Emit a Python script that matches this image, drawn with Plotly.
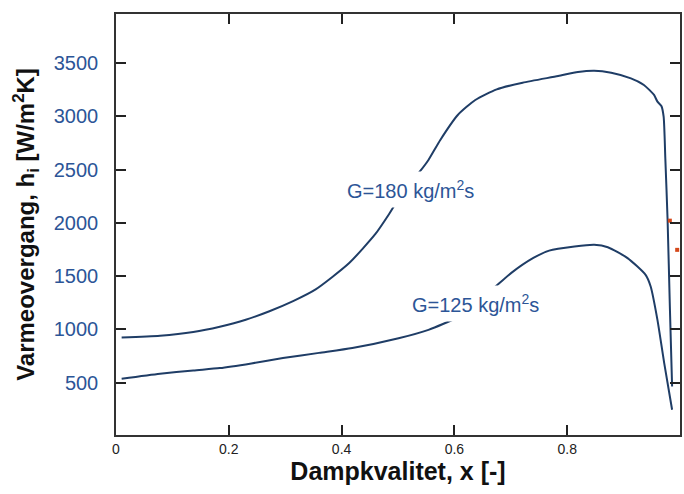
import plotly.graph_objects as go

# Vapour quality x [-] and heat transfer coefficient h_i [W/m2K]
x_180 = [0.01, 0.078, 0.137, 0.184, 0.230, 0.272, 0.314, 0.354, 0.413, 0.460,
         0.484, 0.510, 0.537, 0.554, 0.575, 0.606, 0.637, 0.675, 0.721, 0.784,
         0.819, 0.848, 0.878, 0.913, 0.936, 0.954, 0.960, 0.967, 0.971, 0.974,
         0.978, 0.982, 0.986]
h_180 = [923, 940, 975, 1025, 1090, 1170, 1265, 1375, 1620, 1895,
         2080, 2300, 2470, 2590, 2778, 3012, 3153, 3253, 3315, 3378,
         3416, 3428, 3409, 3356, 3294, 3200, 3137, 3097, 2996, 2600,
         2027, 1214, 463]

x_125 = [0.01, 0.078, 0.137, 0.184, 0.24, 0.296, 0.36, 0.419, 0.501, 0.554,
         0.604, 0.635, 0.666, 0.701, 0.740, 0.768, 0.813, 0.848, 0.872, 0.907,
         0.939, 0.948, 0.960, 0.972, 0.986]
h_125 = [536, 583, 614, 636, 680, 730, 779, 824, 916, 995,
         1110, 1240, 1369, 1530, 1670, 1739, 1777, 1793, 1771, 1668,
         1511, 1402, 1089, 683, 245]

red_x = [0.982, 0.995]
red_y = [2020, 1746]

x_ticks = [0, 0.2, 0.4, 0.6, 0.8, 1]
x_ticklabels = ["0", "0.2", "0.4", "0.6", "0.8", "1"]
y_ticks = [500, 1000, 1500, 2000, 2500, 3000, 3500]

labels = [("G=180 kg/m<sup>2</sup>s", 0.522, 2309),
          ("G=125 kg/m<sup>2</sup>s", 0.638, 1239)]

line_col = "#1f3d66"
lab_col = "#2c5597"

fig = go.Figure()
fig.add_trace(go.Scatter(x=x_180, y=h_180, mode="lines",
                         line=dict(color=line_col, width=2, shape="spline", smoothing=0.6),
                         showlegend=False))
fig.add_trace(go.Scatter(x=x_125, y=h_125, mode="lines",
                         line=dict(color=line_col, width=2, shape="spline", smoothing=0.6),
                         showlegend=False))
fig.add_trace(go.Scatter(x=red_x, y=red_y, mode="markers", cliponaxis=False,
                         marker=dict(color="#d5481a", size=4, symbol="square"),
                         showlegend=False))

for txt, lx, ly in labels:
    fig.add_annotation(x=lx, y=ly, text=txt, showarrow=False,
                       bgcolor="white", borderpad=5,
                       font=dict(family="Liberation Sans, Arial", size=20, color=lab_col))

fig.update_layout(
    width=684, height=494,
    margin=dict(l=116, r=2, t=14, b=59),
    paper_bgcolor="white", plot_bgcolor="white",
    font=dict(family="Liberation Sans, Arial"),
)
fig.update_xaxes(
    range=[0, 1], tickvals=x_ticks, ticktext=x_ticklabels,
    showgrid=False, zeroline=False,
    showline=True, linecolor="#333", linewidth=1.5, mirror="allticks",
    ticks="inside", ticklen=10, tickcolor="#222", tickwidth=1.5,
    tickfont=dict(size=14, color="#222"),
    title=dict(text="<b>Dampkvalitet, x [-]</b>", font=dict(size=25, color="#111"), standoff=6),
)
fig.update_yaxes(
    range=[8, 3960], tickvals=y_ticks,
    showgrid=False, zeroline=False,
    showline=True, linecolor="#333", linewidth=1.5, mirror="allticks",
    ticks="inside", ticklen=10, tickcolor="#222", tickwidth=1.5,
    tickfont=dict(size=20, color=lab_col), ticklabelstandoff=12,
    title=dict(text="<b>Varmeovergang, h<sub>i</sub> [W/m<sup>2</sup>K]</b>",
               font=dict(size=24, color="#111"), standoff=12),
)

fig.write_html("out.html")
